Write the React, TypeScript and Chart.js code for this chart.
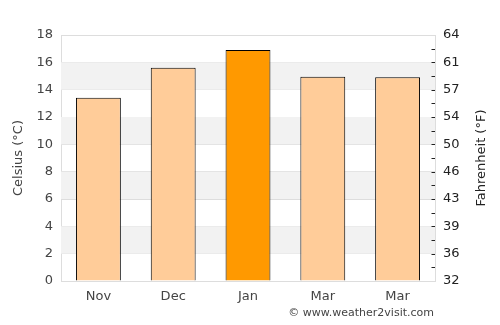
import React, { useEffect, useRef } from "react";
import { Chart, registerables } from "chart.js";

Chart.register(...registerables);

const categories = ["Nov", "Dec", "Jan", "Mar", "Mar"];
const celsiusValues = [13.4, 15.6, 16.9, 14.95, 14.9];
const barColors = ["#ffcc99", "#ffcc99", "#ff9900", "#ffcc99", "#ffcc99"];
const celsiusTicks = [0, 2, 4, 6, 8, 10, 12, 14, 16, 18];
const fahrenheitLabels = ["32", "36", "39", "43", "46", "50", "54", "57", "61", "64"];
const bandRanges = [[2, 4], [6, 8], [10, 12], [14, 16]];
const minorTicks = [1, 2, 3, 4, 5, 6, 7, 8, 9, 10, 11, 12, 13, 14, 15, 16, 17];
const leftTitle = "Celsius (°C)";
const rightTitle = "Fahrenheit (°F)";
const credit = "© www.weather2visit.com";

const FONT = "'DejaVu Sans', sans-serif";
const TEXT = "#444";
const DARK = "#222";

const bandsPlugin = {
  id: "bands",
  beforeDatasetsDraw(chart: any) {
    const { ctx, chartArea, scales } = chart;
    const y = scales.y;
    ctx.save();
    ctx.fillStyle = "#f2f2f2";
    for (const [a, b] of bandRanges) {
      const top = y.getPixelForValue(b);
      const bot = y.getPixelForValue(a);
      ctx.fillRect(chartArea.left, top, chartArea.right - chartArea.left, bot - top);
    }
    ctx.restore();
  },
};

const extrasPlugin = {
  id: "extras",
  afterDraw(chart: any) {
    const { ctx, chartArea, scales } = chart;
    const y2 = scales.y2;
    ctx.save();
    ctx.strokeStyle = DARK;
    ctx.lineWidth = 1;
    for (const v of minorTicks) {
      const py = Math.round(y2.getPixelForValue(v)) + 0.5;
      ctx.beginPath();
      ctx.moveTo(chartArea.right - 3.5, py);
      ctx.lineTo(chartArea.right, py);
      ctx.stroke();
    }
    const midY = (chartArea.top + chartArea.bottom) / 2;
    ctx.fillStyle = DARK;
    ctx.font = `13px ${FONT}`;
    ctx.textAlign = "center";
    ctx.textBaseline = "middle";
    ctx.translate(482, midY);
    ctx.rotate(-Math.PI / 2);
    ctx.fillText(rightTitle, 0, 0);
    ctx.setTransform(1, 0, 0, 1, 0, 0);
    ctx.fillStyle = TEXT;
    ctx.font = `11px ${FONT}`;
    ctx.textAlign = "right";
    ctx.fillText(credit, 434, 313);
    ctx.restore();
  },
};

export default function App() {
  const ref = useRef<HTMLCanvasElement | null>(null);
  useEffect(() => {
    if (!ref.current) return;
    const chart = new Chart(ref.current, {
      type: "bar",
      data: {
        labels: categories,
        datasets: [
          {
            data: celsiusValues,
            backgroundColor: barColors,
            borderColor: "#000",
            borderWidth: 1,
            barPercentage: 0.6,
            categoryPercentage: 1,
          },
        ],
      },
      options: {
        animation: false,
        responsive: false,
        events: [],
        layout: { padding: { top: 35, left: 0, right: 0, bottom: 0 } },
        plugins: { legend: { display: false }, tooltip: { enabled: false } },
        scales: {
          x: {
            grid: { display: false },
            border: { display: true, color: "#ddd" },
            ticks: { color: TEXT, font: { family: FONT, size: 13 }, padding: 0 },
            afterFit: (s: any) => {
              s.height = 44;
            },
          },
          y: {
            position: "left",
            min: 0,
            max: 18,
            afterBuildTicks: (s: any) => {
              s.ticks = celsiusTicks.map((v) => ({ value: v }));
            },
            grid: { color: "#ddd", drawTicks: false },
            border: { display: true, color: "#ddd" },
            ticks: { color: TEXT, font: { family: FONT, size: 13 }, padding: 8 },
            title: {
              display: true,
              text: leftTitle,
              color: TEXT,
              font: { family: FONT, size: 13 },
              padding: { top: 11, bottom: 4 },
            },
            afterFit: (s: any) => {
              s.width = 61;
            },
          },
          y2: {
            position: "right",
            min: 0,
            max: 18,
            afterBuildTicks: (s: any) => {
              s.ticks = celsiusTicks.map((v) => ({ value: v }));
            },
            grid: { display: false, drawTicks: false },
            border: { display: true, color: "#ddd" },
            ticks: {
              color: DARK,
              font: { family: FONT, size: 13 },
              padding: 8,
              callback: (_v: any, i: number) => fahrenheitLabels[i],
            },
            title: { display: false },
            afterFit: (s: any) => {
              s.width = 65;
            },
          },
        },
      },
      plugins: [bandsPlugin, extrasPlugin],
    });
    return () => chart.destroy();
  }, []);
  return (
    <div style={{ position: "absolute", left: 0, top: 0, width: 500, height: 325, background: "#fff" }}>
      <canvas ref={ref} width={500} height={325} style={{ width: 500, height: 325 }} />
    </div>
  );
}
